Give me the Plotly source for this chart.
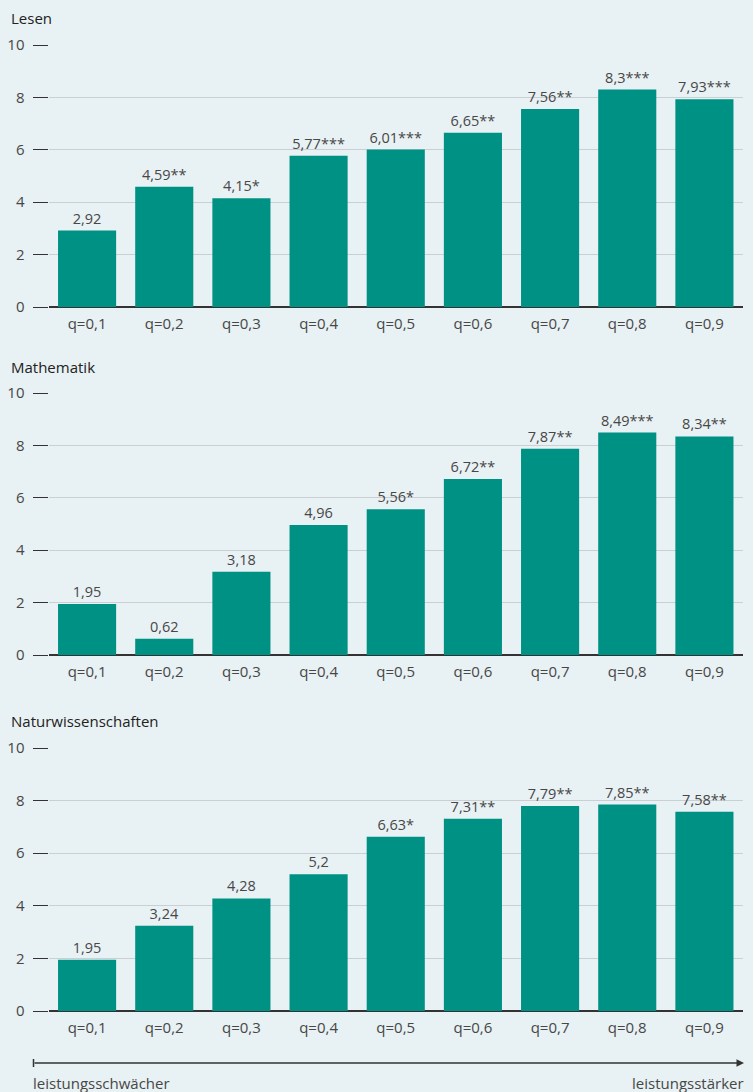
import plotly.graph_objects as go

W, H = 753, 1092
categories = ["q=0,1", "q=0,2", "q=0,3", "q=0,4", "q=0,5", "q=0,6", "q=0,7", "q=0,8", "q=0,9"]
titles = ["Lesen", "Mathematik", "Naturwissenschaften"]
lesen = [2.92, 4.59, 4.15, 5.77, 6.01, 6.65, 7.56, 8.3, 7.93]
lesen_sig = ["", "**", "*", "***", "***", "**", "**", "***", "***"]
mathe = [1.95, 0.62, 3.18, 4.96, 5.56, 6.72, 7.87, 8.49, 8.34]
mathe_sig = ["", "", "", "", "*", "**", "**", "***", "**"]
natur = [1.95, 3.24, 4.28, 5.2, 6.63, 7.31, 7.79, 7.85, 7.58]
natur_sig = ["", "", "", "", "*", "**", "**", "**", "**"]
yticks = [0, 2, 4, 6, 8, 10]

series = [(lesen, lesen_sig), (mathe, mathe_sig), (natur, natur_sig)]
panel_px = [(307, 45), (655, 393), (1011, 748)]
title_px = [18, 367, 721]

BG = "#e8f1f3"
TEAL = "#009185"
TXT = "#474747"
FONT = "Open Sans"

def fy(py):
    return 1 - py / H

def fx(px):
    return px / W

fig = go.Figure()
layout = dict(
    width=W, height=H, margin=dict(l=0, r=0, t=0, b=0, autoexpand=False),
    paper_bgcolor=BG, plot_bgcolor=BG, showlegend=False,
    font=dict(family=FONT, size=14, color=TXT),
    bargap=0.247,
)
annotations = []
shapes = []

def fmt(v):
    s = ("%.2f" % v).rstrip("0").rstrip(".")
    return s.replace(".", ",")

for i, ((vals, sig), (p0, p10)) in enumerate(zip(series, panel_px)):
    n = i + 1
    xa = "x" if n == 1 else f"x{n}"
    ya = "y" if n == 1 else f"y{n}"
    labels = [fmt(v) + s for v, s in zip(vals, sig)]
    fig.add_trace(go.Bar(
        x=categories, y=vals, xaxis=xa, yaxis=ya,
        marker=dict(color=TEAL, line=dict(width=0)),
        text=labels, textposition="outside", cliponaxis=False,
        textfont=dict(family=FONT, size=14.5, color=TXT),
        hoverinfo="skip",
    ))
    layout[f"xaxis{'' if n == 1 else n}"] = dict(
        domain=[fx(48.5), fx(743)], anchor=ya, automargin=False,
        showgrid=False, showline=False, ticks="", zeroline=False,
        tickfont=dict(family=FONT, size=15, color=TXT),
        ticklabelstandoff=6, fixedrange=True,
    )
    layout[f"yaxis{'' if n == 1 else n}"] = dict(
        domain=[fy(p0), fy(p10)], anchor=xa, range=[0, 10], automargin=False,
        tickvals=yticks, ticktext=[str(t) for t in yticks],
        showgrid=True, gridcolor="#c9cfd2", gridwidth=1,
        zeroline=True, zerolinecolor="#333333", zerolinewidth=1.5,
        ticks="outside", ticklen=15, tickcolor="#333333", tickwidth=1.2,
        tickfont=dict(family=FONT, size=15, color=TXT),
        ticklabelstandoff=5, showline=False, fixedrange=True,
    )
    annotations.append(dict(
        text=titles[i], xref="paper", yref="paper", x=fx(9), y=fy(title_px[i]),
        xanchor="left", yanchor="middle", showarrow=False,
        font=dict(family=FONT, size=15, color="#222222"),
    ))

# bottom arrow
ay = fy(1063)
annotations.append(dict(
    xref="paper", yref="paper", x=fx(744), y=ay, ax=-(744 - 33), ay=0,
    text="", showarrow=True, standoff=0, startstandoff=0,
    arrowhead=2, arrowsize=1, arrowwidth=1.5, arrowcolor="#333333",
))
shapes.append(dict(type="line", xref="paper", yref="paper",
                   x0=fx(33.5), x1=fx(33.5), y0=fy(1059), y1=fy(1067),
                   line=dict(color="#333333", width=1.5)))
annotations.append(dict(
    text="leistungsschwächer", xref="paper", yref="paper", x=fx(31), y=fy(1083),
    xanchor="left", yanchor="middle", showarrow=False,
    font=dict(family=FONT, size=15, color=TXT),
))
annotations.append(dict(
    text="leistungsstärker", xref="paper", yref="paper", x=fx(746), y=fy(1083),
    xanchor="right", yanchor="middle", showarrow=False,
    font=dict(family=FONT, size=15, color=TXT),
))

layout["annotations"] = annotations
layout["shapes"] = shapes
fig.update_layout(**layout)
fig.write_html(
    "out.html",
    config={"displayModeBar": False},
    post_script="document.body.style.margin='0';document.body.style.overflow='hidden';",
)
